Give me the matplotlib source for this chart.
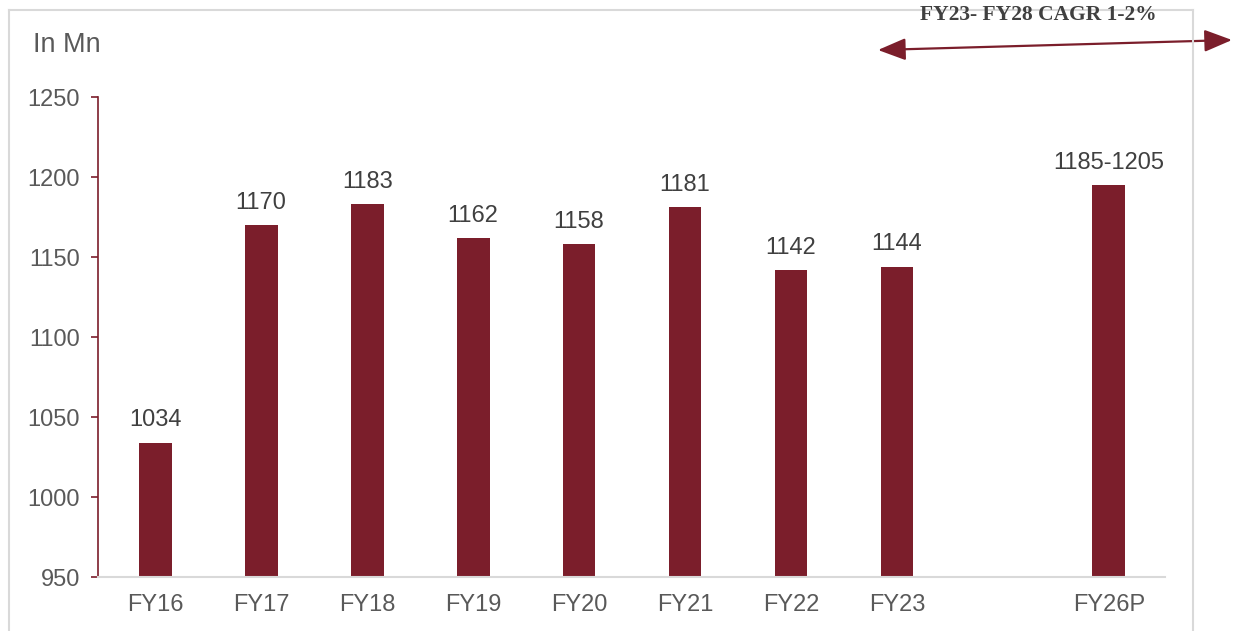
import matplotlib

matplotlib.use("Agg")
import matplotlib.pyplot as plt
from matplotlib.lines import Line2D

plt.rcParams.update(
    {
        "font.family": ["Liberation Sans", "DejaVu Sans"],
        "font.size": 17,
    }
)

# data
categories = ["FY16", "FY17", "FY18", "FY19", "FY20", "FY21", "FY22", "FY23", "FY26P"]
positions = [0, 1, 2, 3, 4, 5, 6, 7, 9]
values = [1034, 1170, 1183, 1162, 1158, 1181, 1142, 1144, 1195]
value_labels = ["1034", "1170", "1183", "1162", "1158", "1181", "1142", "1144", "1185-1205"]
yticks = [950, 1000, 1050, 1100, 1150, 1200, 1250]

BAR = "#7b1e2b"
TXT = "#404040"
TICK = "#595959"
FRAME = "#d9d9d9"

fig = plt.figure(figsize=(12.35, 6.31), dpi=100)
ax = fig.add_axes([98 / 1235, 1 - 577 / 631, (1165 - 98) / 1235, (577 - 97) / 631])

ax.bar(positions, values, width=0.31, color=BAR)
for x, v, lab in zip(positions, values, value_labels):
    ax.annotate(lab, (x, v), xytext=(0, 8), textcoords="offset points",
                ha="center", va="bottom", color=TXT, fontsize=17)

ax.set_ylim(950, 1250)
ax.set_xlim(-0.54, 9.53)
ax.set_yticks(yticks)
ax.set_xticks(positions)
ax.set_xticklabels(categories)
ax.tick_params(axis="y", colors=BAR, labelcolor=TICK, length=5, width=1.2, pad=8,
               labelsize=17)
ax.tick_params(axis="x", length=0, labelcolor=TICK, pad=12, labelsize=17)

for s in ["top", "right"]:
    ax.spines[s].set_visible(False)
ax.spines["left"].set_color(BAR)
ax.spines["left"].set_linewidth(1.2)
ax.spines["bottom"].set_color(FRAME)
ax.spines["bottom"].set_linewidth(1.5)

fig.text(33 / 1235, 1 - 45 / 631, "In Mn", ha="left", va="center", color=TICK, fontsize=19.5)

# light frame around the chart area
fw = 1.5
fig.add_artist(Line2D([9 / 1235, 9 / 1235], [0, 1 - 10 / 631], color=FRAME, lw=fw,
                      transform=fig.transFigure))
fig.add_artist(Line2D([9 / 1235, 1193 / 1235], [1 - 10 / 631, 1 - 10 / 631], color=FRAME,
                      lw=fw, transform=fig.transFigure))
fig.add_artist(Line2D([1193 / 1235, 1193 / 1235], [0, 1 - 10 / 631], color=FRAME, lw=fw,
                      transform=fig.transFigure))

# CAGR arrow and note
fig.text(1038 / 1235, 1 - 15 / 631, "FY23- FY28 CAGR 1-2%", ha="center", va="center",
         family=["Liberation Serif", "DejaVu Serif"], weight="bold", color=TXT, fontsize=15.5)
ax.annotate("", xy=(1232 / 1235, 1 - 40 / 631), xytext=(878 / 1235, 1 - 50 / 631),
            xycoords="figure fraction", textcoords="figure fraction",
            arrowprops=dict(arrowstyle="<|-|>,head_length=1.0,head_width=0.4", color=BAR,
                            lw=1.6, shrinkA=0, shrinkB=0))

fig.savefig("out.png", dpi=100)
